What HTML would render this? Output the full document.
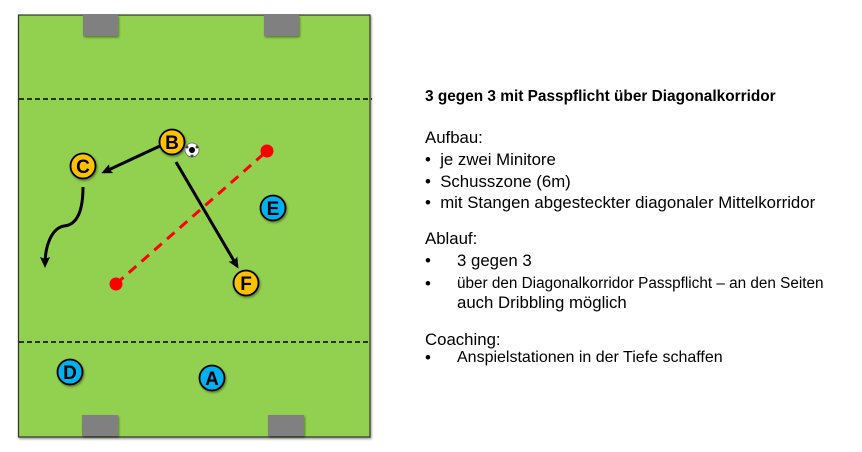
<!DOCTYPE html>
<html><head><meta charset="utf-8"><style>
body{margin:0;width:862px;height:452px;background:#fff;overflow:hidden;font-family:"Liberation Sans",sans-serif;}
.t{position:absolute;left:425px;font-size:16.8px;color:#000;white-space:nowrap;}
</style></head><body>
<svg width="862" height="452" style="position:absolute;left:0;top:0">
<defs>
<marker id="ar" markerWidth="11" markerHeight="10" refX="8" refY="5" orient="auto" markerUnits="userSpaceOnUse"><path d="M0,0 L11,5 L0,10 L2,5 Z" fill="#000"/></marker>
<filter id="sh"><feDropShadow dx="1" dy="1.5" stdDeviation="1" flood-opacity="0.4"/></filter>
</defs>
<rect x="18.5" y="15" width="351.5" height="422" fill="#92d050" stroke="#333" stroke-width="1.2" filter="url(#sh)"/>
<g fill="#808080" filter="url(#sh)">
<rect x="83" y="15" width="35" height="21"/><rect x="264" y="15" width="35" height="21"/>
<rect x="82" y="415" width="36" height="21"/><rect x="268" y="415" width="36" height="21"/>
</g>
<line x1="19" y1="99" x2="372" y2="99" stroke="#000" stroke-width="1.5" stroke-dasharray="5,3"/>
<line x1="19" y1="342" x2="370" y2="342" stroke="#000" stroke-width="1.5" stroke-dasharray="5,3"/>
<line x1="116" y1="284" x2="267" y2="151" stroke="#f00" stroke-width="3" stroke-dasharray="10,7"/>
<circle cx="267" cy="151" r="6.5" fill="#f00"/><circle cx="116" cy="284" r="6.5" fill="#f00"/>
<line x1="160" y1="146" x2="104" y2="172" stroke="#000" stroke-width="3" marker-end="url(#ar)"/>
<line x1="176" y1="162" x2="237" y2="266" stroke="#000" stroke-width="3" marker-end="url(#ar)"/>
<path d="M83,187 C83,215 75,225 64,226 C52,228 45,245 45,265" fill="none" stroke="#000" stroke-width="3" marker-end="url(#ar)"/>
<g stroke="#000" stroke-width="1.8" filter="url(#sh)">
<circle cx="172" cy="142" r="12.5" fill="#ffc000"/><circle cx="83" cy="166" r="12.5" fill="#ffc000"/>
<circle cx="246" cy="283" r="12.5" fill="#ffc000"/><circle cx="273" cy="208" r="12.5" fill="#00b0f0"/>
<circle cx="70" cy="372" r="12.5" fill="#00b0f0"/><circle cx="212" cy="378" r="12.5" fill="#00b0f0"/>
</g>
<g font-family="Liberation Sans" font-weight="bold" font-size="19" text-anchor="middle" fill="#000">
<text x="172" y="149">B</text><text x="83" y="173">C</text><text x="246" y="290">F</text>
<text x="273" y="215">E</text><text x="70" y="379">D</text><text x="212" y="385">A</text>
</g>
<circle cx="192" cy="150" r="7" fill="#fff" stroke="#666" stroke-width="0.8"/>
<circle cx="192" cy="150" r="3" fill="#000"/>
<circle cx="187" cy="147" r="1.5" fill="#444"/><circle cx="197" cy="147" r="1.5" fill="#444"/><circle cx="192" cy="156" r="1.5" fill="#444"/>
</svg>
<div class="t" style="top:88px;font-weight:bold;font-size:15.4px">3 gegen 3 mit Passpflicht über Diagonalkorridor</div>
<div class="t" style="top:128px">Aufbau:</div>
<div class="t" style="top:150px">•&nbsp;&nbsp;je zwei Minitore</div>
<div class="t" style="top:172px">•&nbsp;&nbsp;Schusszone (6m)</div>
<div class="t" style="top:193px">•&nbsp;&nbsp;mit Stangen abgesteckter diagonaler Mittelkorridor</div>
<div class="t" style="top:229px">Ablauf:</div>
<div class="t" style="top:251px">•<span style="position:absolute;left:32px">3 gegen 3</span></div>
<div class="t" style="top:274px">•<span style="position:absolute;left:32px;font-size:15.3px;top:1px">über den Diagonalkorridor Passpflicht – an den Seiten</span></div>
<div class="t" style="top:293px;left:457px">auch Dribbling möglich</div>
<div class="t" style="top:330px">Coaching:</div>
<div class="t" style="top:348px">•<span style="position:absolute;left:32px;font-size:16px;top:1px">Anspielstationen in der Tiefe schaffen</span></div>
</body></html>
